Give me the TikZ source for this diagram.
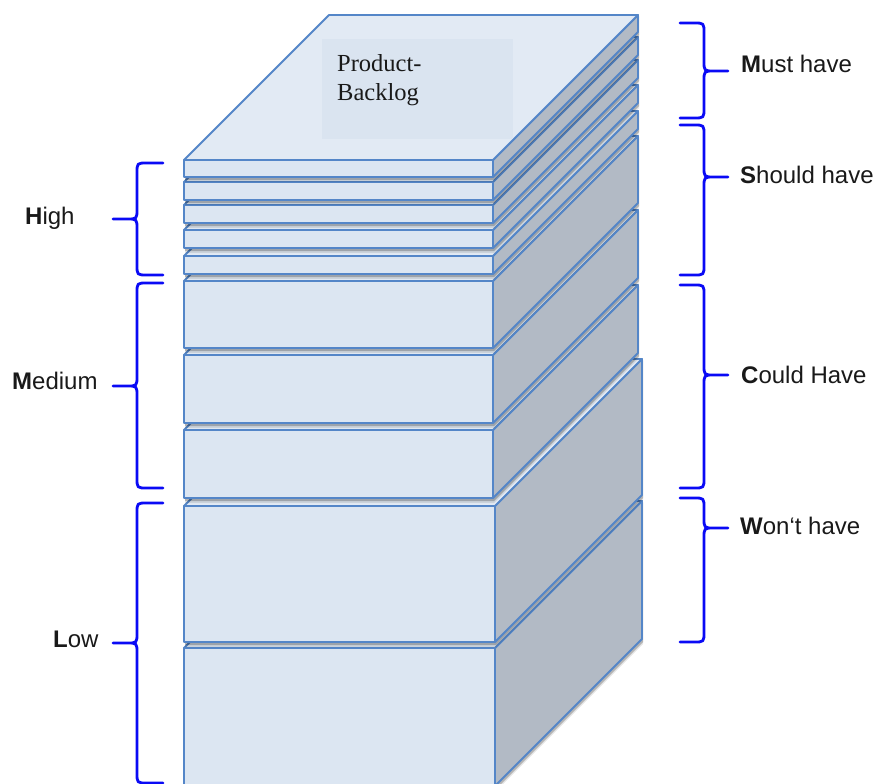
\documentclass[tikz,border=0pt]{standalone}
\usepackage{fontspec}
\newfontfamily\labfont{Liberation Sans}
\newfontfamily\serfont{Liberation Serif}
\definecolor{edgeblue}{HTML}{5486C8}
\definecolor{frontfill}{HTML}{DCE6F2}
\definecolor{topfill}{HTML}{E2EAF4}
\definecolor{rectfill}{HTML}{DAE4F0}
\definecolor{sidefill}{HTML}{B2BAC5}
\definecolor{braceblue}{HTML}{0A0AF5}
\tikzset{
  boxline/.style={draw=edgeblue, line width=1.8pt, line join=round},
  frontface/.style={boxline, fill=frontfill},
  sideface/.style={boxline, fill=sidefill},
  topface/.style={boxline, fill=topfill},
  bracepath/.style={draw=braceblue, line width=2.8pt, line join=round, line cap=round},
  lab/.style={font=\labfont\fontsize{24}{28}\selectfont, inner sep=0pt, anchor=base west, text=black!90},
}
% #1 left x, #2 right x, #3 top y, #4 bottom y, #5 depth
\newcommand\stackbox[5]{%
  \fill[black, opacity=.10] (#1+1,#3+2) -- (#2+1,#3+2) -- (#2+#5+1,#3-#5+2) -- (#2+#5+1,#4-#5+5) -- (#2+1,#4+5) -- (#1+1,#4+5) -- cycle;
  \fill[black, opacity=.22] (#1+1,#3+1) -- (#2+1,#3+1) -- (#2+#5+1,#3-#5+1) -- (#2+#5+1,#4-#5+3) -- (#2+1,#4+3) -- (#1+1,#4+3) -- cycle;
  \filldraw[sideface] (#2,#3) -- (#2+#5,#3-#5) -- (#2+#5,#4-#5) -- (#2,#4) -- cycle;
  \filldraw[topface] (#1,#3) -- (#1+#5,#3-#5) -- (#2+#5,#3-#5) -- (#2,#3) -- cycle;
  \filldraw[frontface] (#1,#3) rectangle (#2,#4);
}
% #1 end x, #2 end knee x, #3 spine x, #4 tip knee x, #5 tip x, #6 y1, #7 ymid, #8 y2
\newcommand\curlybrace[8]{%
  \draw[bracepath] (#1,#6) -- (#2,#6) .. controls (#3,#6) .. (#3,#6+10) -- (#3,#7-10)
    .. controls (#3,#7) .. (#4,#7) -- (#5,#7) -- (#4,#7)
    .. controls (#3,#7) .. (#3,#7+10) -- (#3,#8-10) .. controls (#3,#8) .. (#2,#8) -- (#1,#8);
}
\begin{document}
\begin{tikzpicture}[x=1pt,y=-1pt]
\useasboundingbox (0,0) rectangle (879,784);
\begin{scope}
\clip (0,0) rectangle (879,784);
% stack, bottom to top
\stackbox{184}{495}{648}{786}{147}
\stackbox{184}{495}{506}{642}{147}
\stackbox{184}{493}{430}{498}{145}
\stackbox{184}{493}{355}{423}{145}
\stackbox{184}{493}{281}{348}{145}
\stackbox{184}{493}{256}{274}{145}
\stackbox{184}{493}{230}{248}{145}
\stackbox{184}{493}{205}{223}{145}
\stackbox{184}{493}{182}{200}{145}
\stackbox{184}{493}{160}{177}{145}
\end{scope}
% label area on the top face
\fill[rectfill] (322,39) rectangle (513,139);
\node[font=\serfont\fontsize{24.5}{29}\selectfont, align=left, inner sep=0pt, anchor=north west, text=black!90] (pb) at (337,54) {Product-\\Backlog};
% left braces
\curlybrace{163}{147}{137}{127}{113}{163}{219}{275}
\curlybrace{163}{147}{137}{127}{113}{283}{386}{488}
\curlybrace{163}{147}{137}{127}{113}{503}{643}{783}
% right braces
\curlybrace{680}{694}{704}{714}{728}{23}{71}{118}
\curlybrace{680}{694}{704}{714}{728}{125}{177}{275}
\curlybrace{680}{694}{704}{714}{728}{285}{375}{488}
\curlybrace{680}{694}{704}{714}{728}{498}{528}{642}
% labels
\node[lab] (high) at (25,224) {\textbf{H}igh};
\node[lab] (medium) at (12,389) {\textbf{M}edium};
\node[lab] (low) at (53,647) {\textbf{L}ow};
\node[lab] (must) at (741,73) {\textbf{M}ust have};
\node[lab] (should) at (740,183) {\textbf{S}hould have};
\node[lab] (could) at (741,383) {\textbf{C}ould Have};
\node[lab] (wont) at (740,534) {\textbf{W}on‘t have};
\end{tikzpicture}
\end{document}
